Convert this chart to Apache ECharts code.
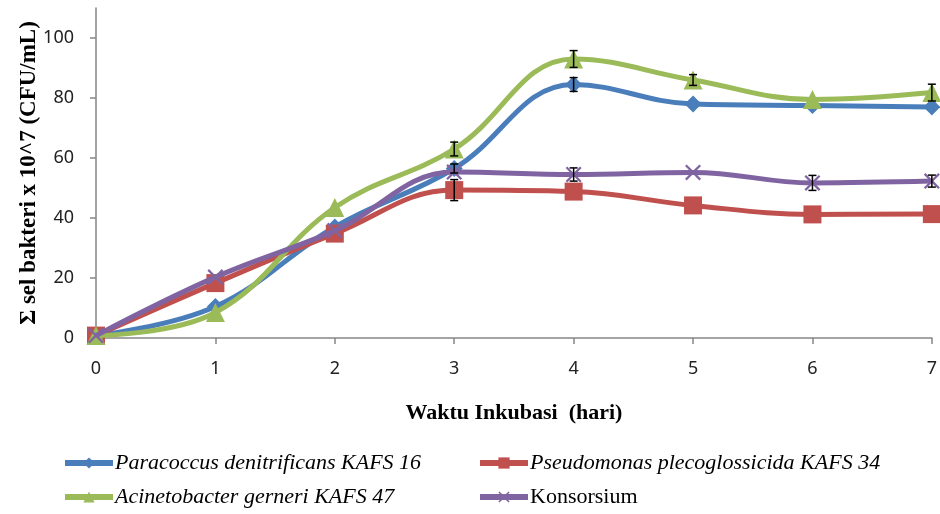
<!DOCTYPE html>
<html>
<head>
<meta charset="utf-8">
<script src="https://cdn.jsdelivr.net/npm/echarts@6/dist/echarts.min.js"></script>
<style>
  html, body { margin: 0; padding: 0; background: #fff; }
  #chart { width: 940px; height: 514px; }
</style>
</head>
<body>
<div id="chart"></div>
<script>
// hari inkubasi
var days = [0, 1, 2, 3, 4, 5, 6, 7];

var seriesNames = [
  'Paracoccus denitrificans KAFS 16',
  'Pseudomonas plecoglossicida KAFS 34',
  'Acinetobacter gerneri KAFS 47',
  'Konsorsium'
];

// nilai (x 10^7 CFU/mL)
var paracoccus = [0.8, 10.5, 37, 56.5, 84.5, 78, 77.5, 77];
var pseudomonas = [0.8, 18.3, 34.8, 49.3, 48.8, 44.2, 41.2, 41.3];
var acinetobacter = [0.8, 8.5, 43.5, 63, 93, 86, 79.5, 81.8];
var konsorsium = [0.8, 20.3, 35.8, 55.3, 54.5, 55.2, 51.7, 52.3];

// error bar (+/-), 0 = tidak terlihat
var paracoccusErr = [0, 0, 0, 1.5, 2.3, 0, 0, 0];
var pseudomonasErr = [0, 0, 0, 3.5, 0, 0, 0, 0];
var acinetobacterErr = [0, 0, 0, 2.3, 2.8, 1.8, 0, 2.8];
var konsorsiumErr = [0, 0, 0, 0, 2.2, 0, 2.5, 2];

var colors = ['#4A7EBB', '#C0504D', '#9BBB59', '#8064A2'];
var symbols = [
  'diamond',
  'rect',
  'triangle',
  'path://M0,1 L1,0 L5,4 L9,0 L10,1 L6,5 L10,9 L9,10 L5,6 L1,10 L0,9 L4,5 Z'
];
var symbolSizes = [17, 18, 19, 16];
var allValues = [paracoccus, pseudomonas, acinetobacter, konsorsium];
var allErrs = [paracoccusErr, pseudomonasErr, acinetobacterErr, konsorsiumErr];

var chart = echarts.init(document.getElementById('chart'));

var series = [];
for (var i = 0; i < 4; i++) {
  series.push({
    name: seriesNames[i],
    type: 'line',
    smooth: 0.4,
    clip: false,
    data: days.map(function (d, j) { return [d, allValues[i][j]]; }),
    symbol: symbols[i],
    symbolSize: symbolSizes[i],
    lineStyle: { color: colors[i], width: 5 },
    itemStyle: { color: colors[i] },
    z: 2 + i
  });
}

// error bars hitam
var errData = [];
for (var i = 0; i < 4; i++) {
  for (var j = 0; j < days.length; j++) {
    if (allErrs[i][j] > 0) {
      errData.push([days[j], allValues[i][j] - allErrs[i][j], allValues[i][j] + allErrs[i][j]]);
    }
  }
}
series.push({
  type: 'custom',
  name: 'err',
  clip: false,
  z: 10,
  silent: true,
  data: errData,
  renderItem: function (params, api) {
    var lo = api.coord([api.value(0), api.value(1)]);
    var hi = api.coord([api.value(0), api.value(2)]);
    var w = 4;
    var st = { stroke: '#000', lineWidth: 1.5 };
    return {
      type: 'group',
      children: [
        { type: 'line', shape: { x1: lo[0], y1: lo[1], x2: hi[0], y2: hi[1] }, style: st },
        { type: 'line', shape: { x1: lo[0] - w, y1: lo[1], x2: lo[0] + w, y2: lo[1] }, style: st },
        { type: 'line', shape: { x1: hi[0] - w, y1: hi[1], x2: hi[0] + w, y2: hi[1] }, style: st }
      ]
    };
  }
});

function makeLegend(name, left, top, italic) {
  return {
    data: [name],
    left: left,
    top: top,
    padding: 0,
    itemWidth: 48,
    itemHeight: 14,
    itemGap: 0,
    lineStyle: { width: 6 },
    textStyle: {
      fontFamily: 'Liberation Serif',
      fontStyle: italic ? 'italic' : 'normal',
      fontSize: 22,
      color: '#000',
      padding: [0, 0, 0, -3]
    }
  };
}

var option = {
  animation: false,
  grid: { left: 96, right: 5, top: 8, bottom: 176 },
  legend: [
    makeLegend(seriesNames[0], 62, 452, true),
    makeLegend(seriesNames[1], 477, 452, true),
    makeLegend(seriesNames[2], 62, 486, true),
    makeLegend(seriesNames[3], 477, 486, false)
  ],
  xAxis: {
    type: 'value',
    min: 0,
    max: 7,
    interval: 1,
    name: 'Waktu Inkubasi  (hari)',
    nameLocation: 'middle',
    nameGap: 64,
    nameMoveOverlap: false,
    nameTextStyle: { fontFamily: 'Liberation Serif', fontWeight: 'bold', fontSize: 22, color: '#000' },
    axisLine: { lineStyle: { color: '#868686', width: 1.5 } },
    axisTick: { show: true, length: 6, lineStyle: { color: '#868686', width: 1.5 } },
    axisLabel: { fontFamily: 'Noto Sans', fontSize: 18, color: '#222', margin: 22 },
    splitLine: { show: false }
  },
  yAxis: {
    type: 'value',
    min: 0,
    max: 110,
    interval: 20,
    name: 'Σ sel bakteri x 10^7 (CFU/mL)',
    nameLocation: 'middle',
    nameGap: 55,
    nameMoveOverlap: false,
    nameRotate: 90,
    nameTextStyle: { fontFamily: 'Liberation Serif', fontWeight: 'bold', fontSize: 23, color: '#000' },
    axisLine: { show: true, lineStyle: { color: '#868686', width: 1.5 } },
    axisTick: { show: true, length: 6, lineStyle: { color: '#868686', width: 1.5 } },
    axisLabel: { fontFamily: 'Noto Sans', fontSize: 18, color: '#222', margin: 22, showMaxLabel: false },
    splitLine: { show: false }
  },
  series: series
};

chart.setOption(option);

window.addEventListener('resize', function () {
  chart.resize();
});
</script>
</body>
</html>
